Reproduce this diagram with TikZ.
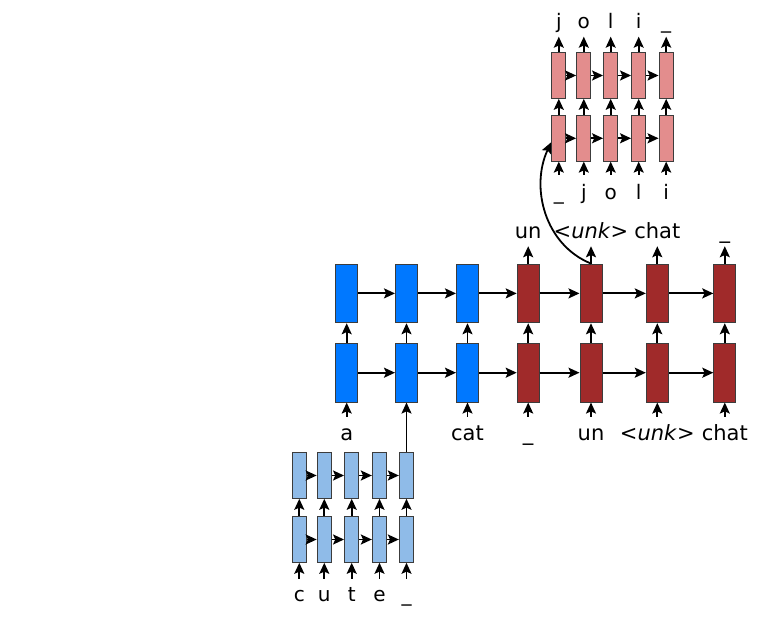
\documentclass[tikz,border=0pt]{standalone}
\usepackage{fontspec}
\setmainfont{DejaVu Sans}
\usetikzlibrary{arrows.meta}
\definecolor{mblue}{RGB}{0,120,255}
\definecolor{mred}{RGB}{160,42,42}
\definecolor{cblue}{RGB}{143,187,232}
\definecolor{cred}{RGB}{227,141,141}
\definecolor{edge}{RGB}{60,60,60}
\tikzset{
  x=1pt, y=1pt,
  mainbox/.style={draw=edge, line width=1pt, minimum width=22pt, minimum height=58.7pt, inner sep=0pt},
  charbox/.style={draw=edge, line width=1pt, minimum width=14.3pt, minimum height=45.6pt, inner sep=0pt},
  arr/.style={line width=1.8pt, -{Stealth[length=11pt,width=10pt,inset=2.2pt]}},
  lab/.style={anchor=base, inner sep=0pt, font=\fontsize{21}{24}\selectfont},
  clab/.style={anchor=base, inner sep=0pt, font=\fontsize{20}{24}\selectfont},
}
\begin{document}
\begin{tikzpicture}
\useasboundingbox (0,0) rectangle (764,624);
% ---------- main word-level model ----------
\foreach \x/\c [count=\i] in {346.7/mblue,406.5/mblue,467.5/mblue,528.2/mred,591/mred,657.3/mred,724.8/mred}{
  \node[mainbox, fill=\c] (mb\i) at (\x,251.3) {};
  \node[mainbox, fill=\c] (mt\i) at (\x,330.6) {};
  \draw[arr] (mb\i) -- (mt\i);
  \coordinate (mi\i) at (\x,207);
}
\foreach \i in {1,3,4,5,6,7}{ \draw[arr] (mi\i) -- (mb\i.south); }
\foreach \i/\j in {1/2,2/3,3/4,4/5,5/6,6/7}{
  \draw[arr] (mb\i) -- (mb\j);
  \draw[arr] (mt\i) -- (mt\j);
}
\foreach \i in {4,5,6,7}{
  \coordinate (mo\i) at ([yshift=17.3pt]mt\i.north);
  \draw[arr] (mt\i.north) -- (mo\i);
}
% input labels
\node[lab] (la1) at (346.7,183) {a};
\node[lab] (la3) at (467.5,183) {cat};
\node[lab] (la4) at (528.2,183) {\_};
\node[lab] (la5) at (591,183) {un};
\node[lab] (la6) at (657.3,183) {<\textit{unk}>};
\node[lab] (la7) at (724.8,183) {chat};
% output labels
\node[lab] (lo4) at (528.2,385.7) {un};
\node[lab] (lo5) at (591,385.7) {<\textit{unk}>};
\node[lab] (lo6) at (657.3,385.7) {chat};
\node[lab] (lo7) at (724.8,385.7) {\_};
% ---------- character encoder (bottom) ----------
\foreach \x/\t [count=\i] in {299.3/c,324.3/u,351.7/t,379.5/e,406.5/\_}{
  \node[charbox, fill=cblue] (eb\i) at (\x,84.5) {};
  \node[charbox, fill=cblue] (et\i) at (\x,148.5) {};
  \draw[arr] (eb\i) -- (et\i);
  \coordinate (ei\i) at (\x,45);
  \draw[arr] (ei\i) -- (eb\i.south);
  \node[clab] (el\i) at (\x,22) {\t};
}
\foreach \i/\j in {1/2,2/3,3/4,4/5}{
  \draw[arr] (eb\i) -- (eb\j);
  \draw[arr] (et\i) -- (et\j);
}
\draw[arr] (et5.north) -- (mb2.south);
% ---------- character decoder (top) ----------
\foreach \x/\t/\o [count=\i] in {558.8/\_/j,583.8/j/o,610.7/o/l,638.7/l/i,666.2/i/\_}{
  \node[charbox, fill=cred] (db\i) at (\x,485.7) {};
  \node[charbox, fill=cred] (dt\i) at (\x,548.5) {};
  \draw[arr] (db\i) -- (dt\i);
  \coordinate (di\i) at (\x,449);
  \draw[arr] (di\i) -- (db\i.south);
  \coordinate (do\i) at (\x,587.3);
  \draw[arr] (dt\i.north) -- (do\i);
  \node[clab] (dl\i) at (\x,424) {\t};
  \node[clab] (dm\i) at (\x,595) {\o};
}
\foreach \i/\j in {1/2,2/3,3/4,4/5}{
  \draw[arr] (db\i) -- (db\j);
  \draw[arr] (dt\i) -- (dt\j);
}
% ---------- copy arrow ----------
\draw[arr] (mt5.north) to[out=158,in=245] ([yshift=-4pt]db1.west);
\end{tikzpicture}
\end{document}
